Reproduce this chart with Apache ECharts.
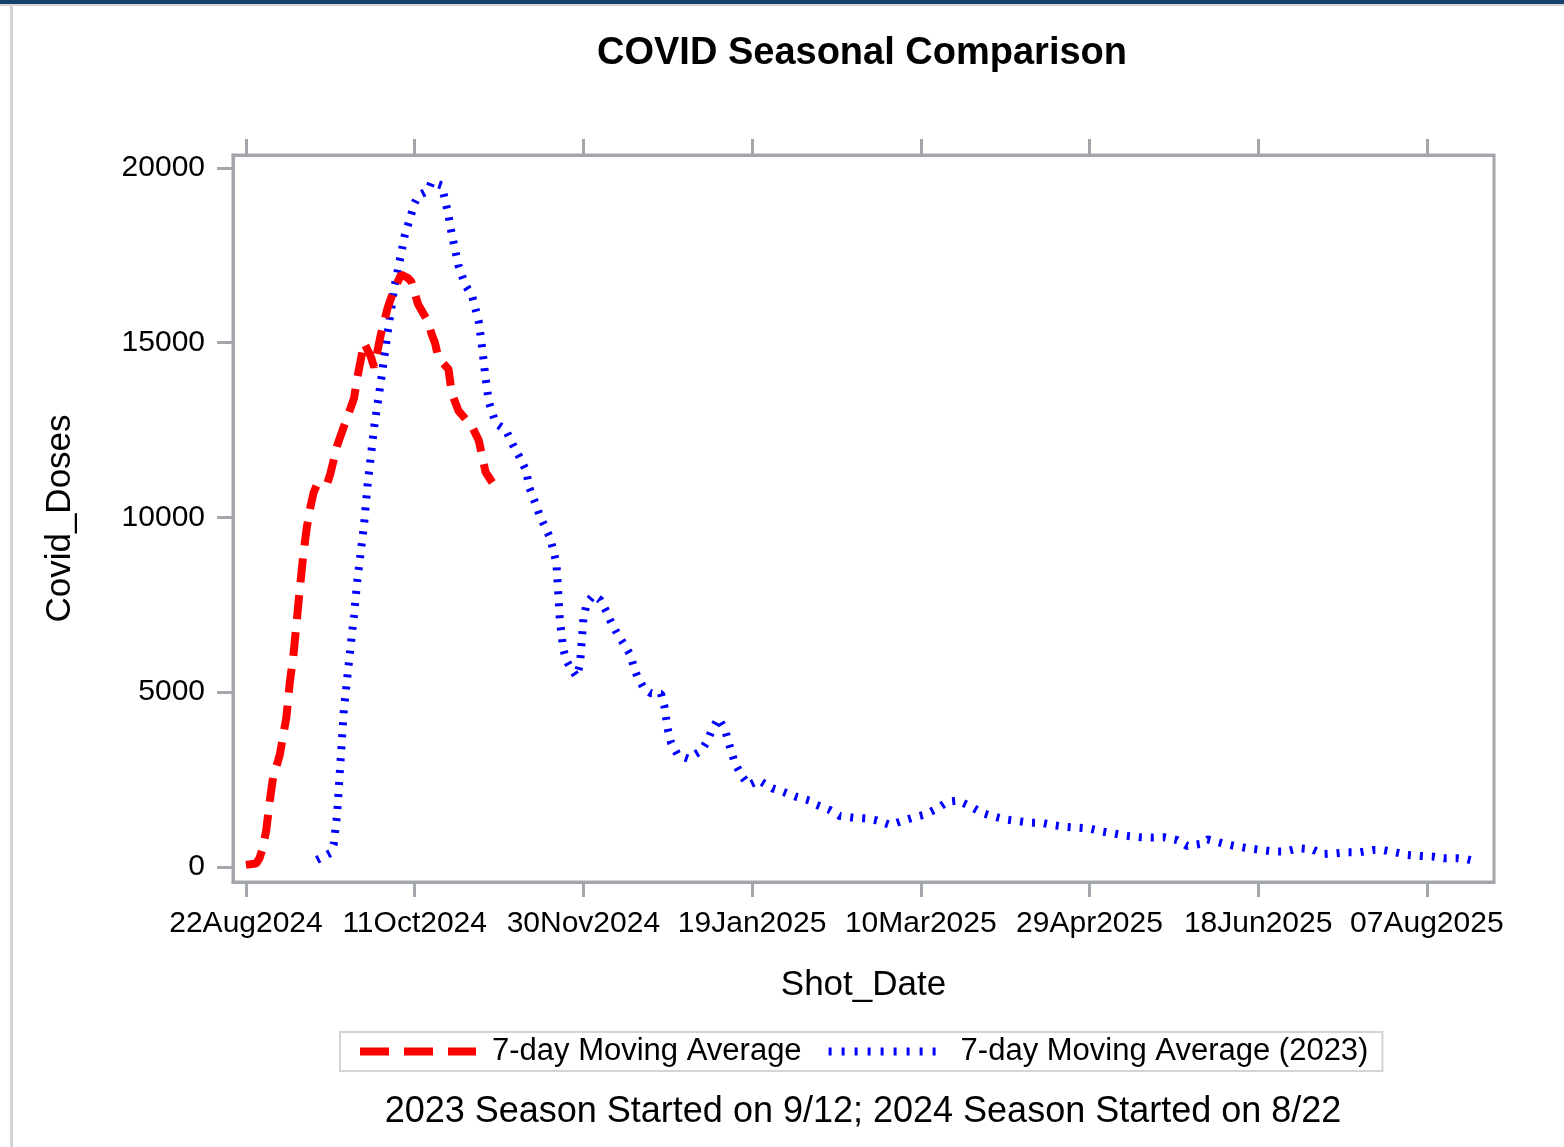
<!DOCTYPE html>
<html lang="en">

<head>
  <meta charset="UTF-8">
  <title>COVID Seasonal Comparison</title>
  <style>
    html, body { margin: 0; padding: 0; background: #fff; }
    #chart { width: 1564px; height: 1147px; }
  </style>
</head>

<body>
  <div id="chart"></div>
  <script src="https://cdn.jsdelivr.net/npm/echarts@6.0.0/dist/echarts.min.js"></script>
  <script>
    // x values are days after 22Aug2024 (both seasons share that axis)
    const seasonStart = Date.UTC(2024, 7, 22)
    const months = ['Jan', 'Feb', 'Mar', 'Apr', 'May', 'Jun', 'Jul', 'Aug', 'Sep', 'Oct', 'Nov', 'Dec']

    const tickDays = [0, 50, 100, 150, 200, 250, 300, 350]
    const doseTicks = [0, 5000, 10000, 15000, 20000]

    // 2024 season, 7-day moving average
    const days2024 = [0, 3, 4, 5, 6, 7, 8, 10, 12, 13, 14, 15, 16, 17, 18, 19, 20, 21, 24, 25,
      27, 29, 32, 33, 35, 37, 38, 40, 42, 44, 46, 48, 49, 51, 54, 55, 56, 57, 59, 60,
      61, 63, 67, 69, 71, 73]
    const doses2024 = [60, 100, 250, 550, 1050, 1850, 2550, 3200, 4300, 5300, 6000, 7000, 8000, 8950, 9700, 10250, 10700, 10930, 10950, 11250,
      12050, 12600, 13400, 14000, 15000, 14600, 14300, 15250, 16000, 16550, 16950, 16850, 16750, 16100, 15600, 15250, 15000, 14575, 14350, 14250,
      13550, 13050, 12600, 12200, 11300, 11000]

    // 2023 season, 7-day moving average (shifted onto the 2024 axis)
    const days2023 = [21, 25, 26, 27, 28, 29, 30, 32, 33, 35,
      36, 38, 40, 42, 44, 46, 47, 50, 51, 54,
      55, 58, 60, 61, 63, 65, 67, 69, 70, 71,
      72, 74, 77, 79, 81, 83, 84, 86, 87, 89,
      90, 91, 92, 93, 94, 95, 96, 98, 99, 100,
      101, 103, 105, 107, 108, 110, 112, 114, 115, 116,
      118, 120, 123, 124, 125, 126, 128, 131, 135, 137,
      138, 140, 142, 143, 144, 145, 147, 149, 152, 156,
      159, 163, 167, 169, 173, 176, 180, 184, 187, 191,
      194, 198, 201, 205, 208, 211, 215, 218, 221, 225,
      229, 232, 236, 239, 243, 247, 250, 254, 257, 261,
      265, 269, 272, 276, 279, 283, 285, 290, 293, 297,
      301, 305, 308, 312, 316, 319, 323, 326, 330, 334,
      337, 341, 344, 348, 352, 355, 359, 362, 365]
    const doses2023 = [200, 400, 650, 1500, 3000, 4500, 5400, 7200, 8200, 9800,
      10900, 12600, 13900, 15300, 16600, 17550, 18050, 19000, 19200, 19350,
      19600, 19500, 18650, 18100, 17200, 16650, 16350, 15600, 14850, 14000,
      13300, 12700, 12500, 12100, 11740, 11350, 10850, 10350, 10070, 9650,
      9450, 9100, 8700, 7100, 6250, 5900, 5730, 5445, 5800, 7100,
      7550, 7780, 7640, 7280, 7050, 6680, 6380, 6060, 5700, 5450,
      5100, 4970, 4960, 4600, 3950, 3550, 3200, 3100, 3330, 3650,
      3900, 4250, 3920, 3580, 3250, 2950, 2600, 2340, 2480, 2250,
      2160, 2010, 1900, 1780, 1630, 1460, 1410, 1390, 1330, 1200,
      1300, 1420, 1490, 1680, 1870, 1900, 1720, 1550, 1460, 1360,
      1310, 1270, 1260, 1200, 1150, 1120, 1100, 1010, 960, 890,
      850, 840, 850, 770, 600, 660, 790, 660, 600, 535,
      485, 440, 440, 535, 505, 370, 390, 420, 420, 485,
      485, 410, 345, 315, 295, 250, 250, 220, 150]

    const frameColor = '#a3a7ab'
    const font = 'Liberation Sans, Arial, sans-serif'

    const fmtDay = (d) => {
      const dt = new Date(seasonStart + d * 86400000)
      const dd = String(dt.getUTCDate()).padStart(2, '0')
      return dd + months[dt.getUTCMonth()] + dt.getUTCFullYear()
    }

    const chart = echarts.init(document.getElementById('chart'))

    const option = {
      animation: false,
      backgroundColor: '#fff',
      graphic: [
        { type: 'rect', shape: { x: 0, y: 0, width: 1564, height: 4 }, style: { fill: '#15416c' } },
        { type: 'rect', shape: { x: 0, y: 4, width: 1564, height: 2 }, style: { fill: '#d4d4d4' } },
        { type: 'rect', shape: { x: 10, y: 6, width: 3, height: 1141 }, style: { fill: '#d4d4d4' } }
      ],
      title: [{
        text: 'COVID Seasonal Comparison',
        left: 862,
        top: 35,
        textAlign: 'center',
        padding: 0,
        textStyle: { fontSize: 38, fontWeight: 'bold', fontFamily: font, color: '#000' }
      }, {
        text: '2023 Season Started on 9/12; 2024 Season Started on 8/22',
        left: 863,
        top: 1094,
        textAlign: 'center',
        padding: 0,
        textStyle: { fontSize: 36, fontWeight: 'normal', fontFamily: font, color: '#000' }
      }],
      legend: {
        left: 340,
        top: 1032,
        itemWidth: 116,
        itemHeight: 10,
        itemGap: 23,
        padding: [4, 14, 4, 16],
        borderColor: '#d4d4d4',
        borderWidth: 2,
        textStyle: { fontSize: 31, fontFamily: font, color: '#000', padding: [0, 0, 0, 11] },
        data: [{
          name: '7-day Moving Average',
          lineStyle: { color: '#ff0000', width: 8, type: [29, 15] },
          itemStyle: { opacity: 0 }
        }, {
          name: '7-day Moving Average (2023)',
          lineStyle: { color: '#0000ff', width: 8, type: [3, 10] },
          itemStyle: { opacity: 0 }
        }]
      },
      grid: {
        left: 233,
        right: 70,
        top: 155,
        bottom: 265,
        show: true,
        borderColor: frameColor,
        borderWidth: 3
      },
      xAxis: [{
        type: 'value',
        position: 'bottom',
        min: -3.85,
        max: 369.9,
        name: 'Shot_Date',
        nameLocation: 'middle',
        nameGap: 86,
        nameTextStyle: { fontSize: 35, fontFamily: font, color: '#000' },
        splitLine: { show: false },
        axisLine: { onZero: false, lineStyle: { color: frameColor, width: 3 } },
        axisTick: { customValues: tickDays, length: 15, lineStyle: { color: frameColor, width: 3 } },
        axisLabel: {
          customValues: tickDays,
          margin: 27,
          fontSize: 30,
          fontFamily: font,
          color: '#000',
          formatter: (v) => fmtDay(v)
        }
      }, {
        type: 'value',
        position: 'top',
        min: -3.85,
        max: 369.9,
        splitLine: { show: false },
        axisLine: { onZero: false, lineStyle: { color: frameColor, width: 3 } },
        axisTick: { customValues: tickDays, length: 16, lineStyle: { color: frameColor, width: 3 } },
        axisLabel: { show: false }
      }],
      yAxis: {
        type: 'value',
        min: -430,
        max: 20370,
        name: 'Covid_Doses',
        nameLocation: 'middle',
        nameGap: 155,
        nameTextStyle: { fontSize: 35, fontFamily: font, color: '#000' },
        splitLine: { show: false },
        axisLine: { show: true, onZero: false, lineStyle: { color: frameColor, width: 3 } },
        axisTick: { show: true, customValues: doseTicks, length: 16, lineStyle: { color: frameColor, width: 3 } },
        axisLabel: {
          customValues: doseTicks,
          margin: 28,
          fontSize: 30,
          fontFamily: font,
          color: '#000',
          formatter: (v) => String(v)
        }
      },
      series: [{
        name: '7-day Moving Average',
        type: 'line',
        data: days2024.map((d, i) => [d, doses2024[i]]),
        symbol: 'none',
        lineStyle: { color: '#ff0000', width: 8, type: [24, 13] },
        itemStyle: { color: '#ff0000' },
        z: 3
      }, {
        name: '7-day Moving Average (2023)',
        type: 'line',
        data: days2023.map((d, i) => [d, doses2023[i]]),
        symbol: 'none',
        lineStyle: { color: '#0000ff', width: 8, type: [3, 9] },
        itemStyle: { color: '#0000ff' },
        z: 2
      }]
    }

    chart.setOption(option)
  </script>
</body>

</html>
